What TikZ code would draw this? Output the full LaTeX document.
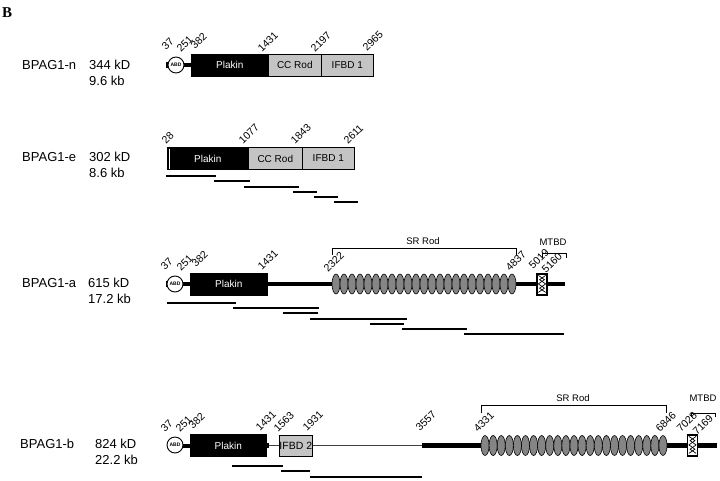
\documentclass[tikz,border=0pt]{standalone}
\usepackage{fontspec}
\setmainfont{Liberation Sans}
\newfontfamily\serifB{Liberation Serif}
\usetikzlibrary{backgrounds}
\definecolor{boxgray}{HTML}{C4C4C4}
\definecolor{repgray}{HTML}{858585}
\begin{document}
\begin{tikzpicture}[x=1pt,y=-1pt,
  lbl/.style={anchor=west, inner sep=0, font=\fontsize{13}{15}\selectfont},
  num/.style={rotate=45, anchor=base west, inner sep=0, font=\fontsize{10.5}{12}\selectfont},
  plk/.style={draw=black, fill=black, text=white, anchor=west, minimum height=22pt, inner sep=0, line width=0.6pt, font=\fontsize{10}{12}\selectfont},
  gbox/.style={draw=black, fill=boxgray, anchor=west, minimum height=22pt, inner sep=0, line width=0.6pt, font=\fontsize{10}{12}\selectfont},
  abd/.style={circle, draw=black, fill=white, line width=0.9pt, minimum size=16pt, inner sep=0, font=\bfseries\fontsize{5}{5}\selectfont},
  dotb/.style={fill=black, minimum width=3pt, minimum height=6pt, inner sep=0},
  thickl/.style={line width=4.5pt},
  thinl/.style={line width=0.8pt, black!75},
  frag/.style={line width=2.6pt},
  rep/.style={draw=black, fill=repgray, line width=0.6pt},
  brk/.style={line width=0.7pt},
  mtbd/.style={draw=black, fill=white, line width=1.2pt, minimum width=10pt, minimum height=21pt, inner sep=0},
  small/.style={inner sep=0, font=\fontsize{9.5}{11}\selectfont}
]
\useasboundingbox (0,0) rectangle (720,480);
\node[anchor=west, inner sep=0, font=\serifB\bfseries\fontsize{15}{15}\selectfont] (B) at (2,13) {B};

% ---------------- BPAG1-n ----------------
\node[lbl] (ln) at (22,65) {BPAG1-n};
\node[lbl] (kn) at (89,65) {344 kD};
\node[lbl] (bn) at (89,81) {9.6 kb};
\node[dotb] (nD) at (167,65) {};
\node[plk, minimum width=77pt] (nP) at (191,65) {Plakin};
\node[gbox, minimum width=53pt] (nC) at (268,65) {CC Rod};
\node[gbox, minimum width=52pt] (nI) at (321,65) {IFBD 1};
\begin{scope}[on background layer]
\draw[line width=4pt] (nD.center) -- (nP.west);
\end{scope}
\node[abd] (nA) at (176,65) {ABD};
\node[num] at (166,51) {37};
\node[num] at (181,53) {251};
\node[num] at (195,50) {382};
\node[num] at (262,53) {1431};
\node[num] at (315,53) {2197};
\node[num] at (367,52) {2965};

% ---------------- BPAG1-e ----------------
\node[lbl] (le) at (22,157) {BPAG1-e};
\node[lbl] (ke) at (89,157) {302 kD};
\node[lbl] (be) at (89,173) {8.6 kb};
\node[plk, minimum width=81pt] (eP) at (167,158.5) {Plakin};
\node[gbox, minimum width=54pt] (eC) at (248,158.5) {CC Rod};
\node[gbox, minimum width=52pt] (eI) at (302,158.5) {IFBD 1};
\draw[white, line width=1.2pt] (169.3,148.5) -- (169.3,168.5);
\node[num] at (166,145) {28};
\node[num] at (243,145) {1077};
\node[num] at (295,145) {1843};
\node[num] at (348,145) {2611};
\draw[frag] (166,176) -- (216,176);
\draw[frag] (214,181) -- (250,181);
\draw[frag] (244,187) -- (299,187);
\draw[frag] (293,192) -- (317,192);
\draw[frag] (314,197) -- (338,197);
\draw[frag] (334,202) -- (358,202);

% ---------------- BPAG1-a ----------------
\node[lbl] (la) at (22,283) {BPAG1-a};
\node[lbl] (ka) at (88,283) {615 kD};
\node[lbl] (ba) at (88,299) {17.2 kb};
\node[dotb] (aD) at (167,284) {};
\node[plk, minimum width=77pt] (aP) at (190,284) {Plakin};
\coordinate (aS) at (332,284);
\coordinate (aE) at (516,284);
\coordinate (aEnd) at (565,284);
\node[mtbd] (aM) at (542,284.5) {};
\begin{scope}[on background layer]
\draw[line width=4pt] (aD.center) -- (aP.west);
\draw[thickl] (aP.east) -- (aS);
\draw[thickl] (aE) -- (aEnd);
\end{scope}
\node[abd] (aA) at (175,284) {ABD};
\foreach \i in {0,...,22} \draw[rep] ({336+\i*8},284) ellipse (4 and 10);
\draw[line width=0.7pt] (aM.north west) ++(2,2) -- ++(6,4.25) -- ++(-6,4.25) -- ++(6,4.25) -- ++(-6,4.25);
\draw[line width=0.7pt] (aM.north east) ++(-2,2) -- ++(-6,4.25) -- ++(6,4.25) -- ++(-6,4.25) -- ++(6,4.25);
\draw[brk] (332,255) -- (332,248) -- (516,248) -- (516,255);
\node[small] (aSR) at (423,241) {SR Rod};
\draw[brk] (542,258) -- (542,253) -- (566,253) -- (566,258);
\node[small] (aMT) at (553,242) {MTBD};
\node[num] at (165,271) {37};
\node[num] at (181,272) {251};
\node[num] at (196,268) {382};
\node[num] at (262,271) {1431};
\node[num] at (328,273) {2322};
\node[num] at (510,272) {4837};
\node[num] at (533,270) {5019};
\node[num] at (546,274) {5160};
\draw[frag] (167,303) -- (236,303);
\draw[frag] (233,308) -- (319,308);
\draw[frag] (283,313) -- (318,313);
\draw[frag] (310,319) -- (407,319);
\draw[frag] (370,324) -- (404,324);
\draw[frag] (402,329) -- (467,329);
\draw[frag] (464,334) -- (564,334);

% ---------------- BPAG1-b ----------------
\node[lbl] (lb) at (20,444) {BPAG1-b};
\node[lbl] (kb) at (95,444) {824 kD};
\node[lbl] (bb) at (95,460) {22.2 kb};
\node[plk, minimum width=76pt] (bP) at (190,445.5) {Plakin};
\node[fill=black, minimum width=4pt, minimum height=5pt, inner sep=0] (bQ) at (267,445.5) {};
\node[gbox, minimum width=33pt, minimum height=21pt, font=\fontsize{10.5}{12}\selectfont] (bI) at (279,445.5) {IFBD 2};
\coordinate (bT) at (422,445.5);
\coordinate (bS) at (481,445.5);
\coordinate (bE) at (667,445.5);
\coordinate (bEnd) at (717,445.5);
\node[mtbd] (bM) at (692.5,445.5) {};
\begin{scope}[on background layer]
\draw[line width=4pt] (176,445.5) -- (bP.west);
\draw[thinl] (bQ.east) -- (bI.west);
\draw[thinl] (bI.east) -- (bT);
\draw[thickl] (bT) -- (bS);
\draw[thickl] (bE) -- (bEnd);
\end{scope}
\node[abd] (bA) at (175,445) {ABD};
\foreach \i in {0,...,22} \draw[rep] ({485.05+\i*8.087},445.5) ellipse (4.05 and 10);
\draw[line width=0.7pt] (bM.north west) ++(2,2) -- ++(6,4.25) -- ++(-6,4.25) -- ++(6,4.25) -- ++(-6,4.25);
\draw[line width=0.7pt] (bM.north east) ++(-2,2) -- ++(-6,4.25) -- ++(6,4.25) -- ++(-6,4.25) -- ++(6,4.25);
\draw[brk] (481,413) -- (481,405) -- (666,405) -- (666,413);
\node[small] (bSR) at (573,398) {SR Rod};
\draw[brk] (691,417) -- (691,413) -- (715,413) -- (715,417);
\node[small] (bMT) at (703,398) {MTBD};
\node[num] at (165,433) {37};
\node[num] at (180,433) {251};
\node[num] at (193,430) {382};
\node[num] at (260,432) {1431};
\node[num] at (278,433) {1563};
\node[num] at (307,432) {1931};
\node[num] at (420,432) {3557};
\node[num] at (478,433) {4331};
\node[num] at (660,433) {6846};
\node[num] at (681,433) {7028};
\node[num] at (697,436) {7169};
\draw[frag] (232,466) -- (283,466);
\draw[frag] (281,471) -- (310,471);
\draw[frag] (310,477) -- (422,477);
\end{tikzpicture}
\end{document}
